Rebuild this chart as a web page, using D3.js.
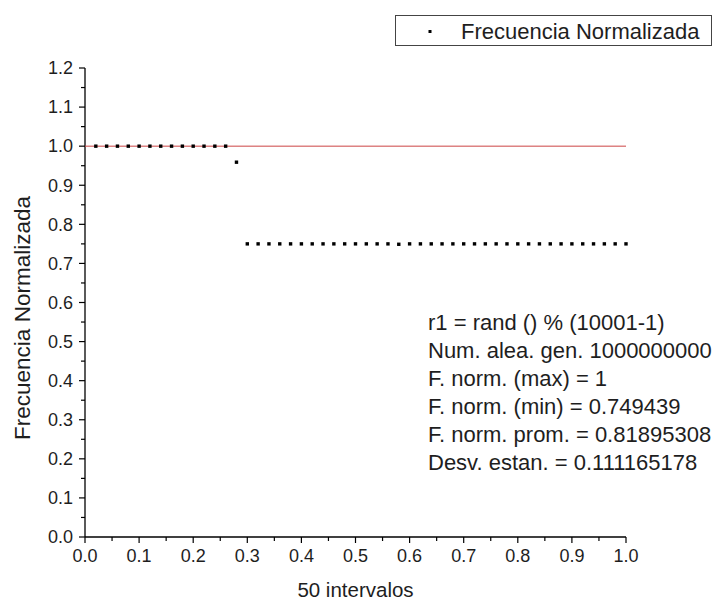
<!DOCTYPE html>
<html>
<head>
<meta charset="utf-8">
<script src="https://cdn.jsdelivr.net/npm/d3@7/dist/d3.min.js"></script>
<style>
  html, body { margin: 0; padding: 0; background: #fff; }
  svg { display: block; font-family: "Liberation Sans", Arial, sans-serif; }
</style>
</head>
<body>
<svg id="chart" width="715" height="606"></svg>
<script>
// ---- data ----
const xValues = [0.02,0.04,0.06,0.08,0.10,0.12,0.14,0.16,0.18,0.20,
                 0.22,0.24,0.26,0.28,0.30,0.32,0.34,0.36,0.38,0.40,
                 0.42,0.44,0.46,0.48,0.50,0.52,0.54,0.56,0.58,0.60,
                 0.62,0.64,0.66,0.68,0.70,0.72,0.74,0.76,0.78,0.80,
                 0.82,0.84,0.86,0.88,0.90,0.92,0.94,0.96,0.98,1.00];
const freqValues = [1,1,1,1,1,1,1,1,1,1,
                    1,1,1,0.959,0.750,0.750,0.750,0.750,0.750,0.750,
                    0.750,0.750,0.750,0.750,0.750,0.750,0.750,0.750,0.749,0.750,
                    0.750,0.750,0.750,0.750,0.750,0.750,0.750,0.750,0.750,0.750,
                    0.750,0.750,0.750,0.750,0.750,0.750,0.750,0.750,0.750,0.750];
const referenceValue = 1.0;
const xTicks = [0,0.1,0.2,0.3,0.4,0.5,0.6,0.7,0.8,0.9,1.0];
const yTicks = [0,0.1,0.2,0.3,0.4,0.5,0.6,0.7,0.8,0.9,1.0,1.1,1.2];
const seriesName = "Frecuencia Normalizada";
const xTitle = "50 intervalos";
const yTitle = "Frecuencia Normalizada";
const noteLines = [
  "r1 = rand () % (10001-1)",
  "Num. alea. gen. 1000000000",
  "F. norm. (max) = 1",
  "F. norm. (min) = 0.749439",
  "F. norm. prom. = 0.81895308",
  "Desv. estan. = 0.111165178"
];

// ---- layout ----
const svg = d3.select("#chart");
const x = d3.scaleLinear().domain([0, 1]).range([85, 626]);
const y = d3.scaleLinear().domain([0, 1.2]).range([537, 68]);
const textColor = "#1e1e1e";

// minor ticks
const xMinor = d3.range(0.05, 1.0, 0.1);
const yMinor = d3.range(0.05, 1.2, 0.1);

// x axis
const gx = svg.append("g").attr("transform", `translate(0,${y(0)})`);
gx.append("line").attr("x1", x(0)).attr("x2", x(1)).attr("y1", 0).attr("y2", 0)
  .attr("stroke", "#000").attr("stroke-width", 1.3);
gx.selectAll(".maj").data(xTicks).join("line")
  .attr("x1", d => x(d)).attr("x2", d => x(d)).attr("y1", 0).attr("y2", 6)
  .attr("stroke", "#000").attr("stroke-width", 1.2);
gx.selectAll(".min").data(xMinor).join("line")
  .attr("x1", d => x(d)).attr("x2", d => x(d)).attr("y1", 0).attr("y2", 4)
  .attr("stroke", "#000").attr("stroke-width", 1.2);
gx.selectAll("text").data(xTicks).join("text")
  .attr("x", d => x(d)).attr("y", 24.5)
  .attr("text-anchor", "middle").attr("font-size", 18).attr("fill", textColor)
  .text(d => d3.format(".1f")(d));

// y axis
const gy = svg.append("g").attr("transform", `translate(${x(0)},0)`);
gy.append("line").attr("x1", 0).attr("x2", 0).attr("y1", y(0)).attr("y2", y(1.2))
  .attr("stroke", "#000").attr("stroke-width", 1.3);
gy.selectAll(".maj").data(yTicks).join("line")
  .attr("x1", -6).attr("x2", 0).attr("y1", d => y(d)).attr("y2", d => y(d))
  .attr("stroke", "#000").attr("stroke-width", 1.2);
gy.selectAll(".min").data(yMinor).join("line")
  .attr("x1", -4).attr("x2", 0).attr("y1", d => y(d)).attr("y2", d => y(d))
  .attr("stroke", "#000").attr("stroke-width", 1.2);
gy.selectAll("text").data(yTicks).join("text")
  .attr("x", -12).attr("y", d => y(d) + 6.3)
  .attr("text-anchor", "end").attr("font-size", 18).attr("fill", textColor)
  .text(d => d3.format(".1f")(d));

// axis titles
svg.append("text")
  .attr("transform", `translate(30,318) rotate(-90)`)
  .attr("text-anchor", "middle").attr("font-size", 22.5).attr("fill", textColor)
  .text(yTitle);
svg.append("text")
  .attr("x", (x(0) + x(1)) / 2).attr("y", 597)
  .attr("text-anchor", "middle").attr("font-size", 20.5).attr("fill", textColor)
  .text(xTitle);

// reference line
svg.append("line")
  .attr("x1", x(0)).attr("x2", x(1))
  .attr("y1", y(referenceValue)).attr("y2", y(referenceValue))
  .attr("stroke", "#cc4444").attr("stroke-width", 1);

// points
const pts = xValues.map((v, i) => ({ x: v, y: freqValues[i] }));
svg.selectAll(".pt").data(pts).join("rect")
  .attr("class", "pt")
  .attr("x", d => x(d.x) - 1.7).attr("y", d => y(d.y) - 1.7)
  .attr("width", 3.4).attr("height", 3.4).attr("fill", "#000");

// legend
const lg = svg.append("g");
lg.append("rect").attr("x", 395.5).attr("y", 15.5).attr("width", 316).attr("height", 30)
  .attr("fill", "#fff").attr("stroke", "#444").attr("stroke-width", 1);
lg.append("rect").attr("x", 428.5).attr("y", 30).attr("width", 3).attr("height", 3).attr("fill", "#000");
lg.append("text").attr("x", 461).attr("y", 39)
  .attr("font-size", 22).attr("fill", textColor).text(seriesName);

// annotation
svg.append("g").selectAll("text").data(noteLines).join("text")
  .attr("x", 428).attr("y", (d, i) => 330 + i * 28)
  .attr("font-size", 22).attr("fill", textColor)
  .text(d => d);
</script>
</body>
</html>
